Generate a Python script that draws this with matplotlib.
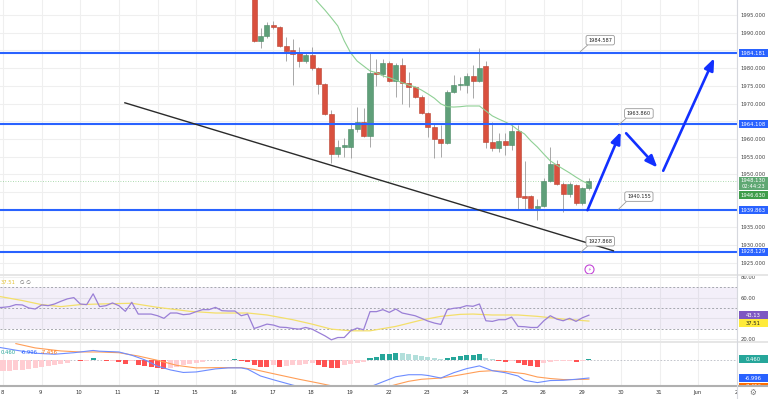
import matplotlib
matplotlib.use("Agg")
import matplotlib.pyplot as plt
from matplotlib.patches import Rectangle
from matplotlib.lines import Line2D
import numpy as np

plt.rcParams['font.family'] = ['DejaVu Sans']

# ---------------- data ----------------
day_labels = ["8", "9", "10", "11", "12", "15", "16", "17", "18", "19",
              "22", "23", "24", "25", "26", "29", "30", "31", "Jun", "2"]

# 4h candles (6 per trading day), first visible candle = index 0
opens = [2002.0, 1987.7, 1989.0, 1992.2, 1991.7, 1986.3, 1985.1, 1984.2, 1982.1, 1983.7,
         1979.9, 1975.5, 1967.0, 1955.7, 1957.8, 1957.8, 1962.7, 1964.8, 1960.9, 1979.0,
         1978.3, 1981.5, 1976.4, 1980.9, 1975.7, 1974.7, 1971.9, 1967.4, 1963.4, 1960.0,
         1958.9, 1973.3, 1975.2, 1975.2, 1977.8, 1976.4, 1980.6, 1959.2, 1957.3, 1959.5,
         1958.2, 1962.3, 1943.8, 1943.9, 1940.6, 1941.0, 1948.2, 1952.9, 1947.4, 1944.4,
         1947.0, 1942.0, 1946.0]
highs = [2002.5, 1991.2, 1993.1, 1993.3, 1992.0, 1988.9, 1988.1, 1986.0, 1984.3, 1986.0,
         1980.4, 1975.7, 1968.2, 1959.7, 1960.2, 1964.5, 1969.0, 1968.7, 1984.2, 1982.6,
         1982.6, 1981.9, 1981.4, 1982.8, 1979.0, 1974.9, 1972.4, 1967.7, 1964.4, 1963.9,
         1973.8, 1978.0, 1977.4, 1978.7, 1980.9, 1985.6, 1982.1, 1964.8, 1961.6, 1961.6,
         1963.9, 1963.9, 1953.9, 1944.1, 1943.0, 1948.9, 1957.6, 1954.0, 1947.9, 1947.9,
         1947.3, 1946.5, 1948.9]
lows = [1987.5, 1985.8, 1988.6, 1991.0, 1986.0, 1982.1, 1975.2, 1980.4, 1981.5, 1979.5,
        1972.7, 1966.7, 1953.1, 1955.0, 1955.0, 1954.6, 1962.0, 1960.6, 1957.8, 1975.0,
        1977.6, 1976.2, 1971.9, 1970.0, 1969.1, 1971.5, 1967.0, 1960.6, 1954.5, 1954.8,
        1958.7, 1972.9, 1973.8, 1972.9, 1971.5, 1976.2, 1957.3, 1956.7, 1956.4, 1955.4,
        1956.9, 1939.9, 1940.2, 1940.1, 1937.1, 1940.7, 1947.9, 1946.9, 1939.4, 1943.7,
        1941.3, 1941.3, 1945.6]
closes = [1987.7, 1989.1, 1992.2, 1991.5, 1986.3, 1984.9, 1984.0, 1982.0, 1983.7, 1979.9,
          1975.5, 1967.0, 1955.7, 1957.8, 1958.1, 1962.7, 1964.8, 1960.9, 1978.5, 1978.3,
          1981.5, 1976.4, 1980.9, 1975.7, 1974.7, 1971.9, 1967.4, 1963.4, 1960.0, 1958.9,
          1973.3, 1975.2, 1975.4, 1977.8, 1976.4, 1980.1, 1959.2, 1957.3, 1959.5, 1958.2,
          1962.3, 1943.5, 1943.4, 1940.6, 1941.0, 1948.2, 1952.9, 1947.4, 1944.4, 1947.2,
          1942.0, 1946.0, 1948.1]

# moving average on price (candle index, value)
ma_first = 9
ma_vals = [2000.5, 1998.4, 1996.4, 1994.2, 1991.9, 1987.7, 1984.3, 1982.0, 1980.6, 1979.2,
           1978.7, 1977.8, 1977.3, 1976.6, 1975.9, 1975.2, 1974.7, 1973.8, 1972.7, 1971.5,
           1969.9, 1969.1, 1969.0, 1969.1, 1969.3, 1969.3, 1969.3, 1967.9, 1966.5, 1965.6,
           1964.8, 1963.9, 1962.5, 1961.4, 1959.4, 1957.7, 1955.7, 1953.8, 1952.6, 1951.5,
           1950.4, 1949.2, 1948.1, 1947.2]

levels = [1984.181, 1964.108, 1939.863, 1928.129]
last_price = 1948.130
second_price = 1946.630
countdown = "02:44:23"

# price scale tick labels that are not hidden behind the label boxes
price_ticks = [1925, 1930, 1935, 1950, 1955, 1960, 1970, 1975, 1980, 1990, 1995]
rsi_ticks = [20, 60, 80]

# trend line (day position, price)
trend_x = [3.155, 15.80]
trend_y = [1970.2, 1928.4]

# projected path arrows: (x0, y0, x1, y1)
arrows = [(15.13, 1939.87, 15.99, 1962.0),
          (16.13, 1961.6, 16.94, 1951.9),
          (17.09, 1951.0, 18.41, 1982.8)]

# price callouts: text, box position, target point
callouts = [("1984.587", (15.46, 1987.9), (14.94, 1984.6)),
            ("1963.860", (16.46, 1967.2), (15.93, 1963.9)),
            ("1940.155", (16.46, 1943.7), (15.93, 1940.1)),
            ("1927.868", (15.46, 1931.1), (14.94, 1927.8))]

# RSI, histogram: one value per candle, candle index -40 .. 52
ind_first = -40
rsi_vals = [50.3, 50.6, 51.3, 53.2, 52.9, 50.0, 49.0, 52.9, 52.2, 53.8,
            56.4, 58.7, 59.9, 53.8, 53.2, 63.5, 51.3, 52.2, 54.8, 52.2,
            46.8, 55.4, 44.2, 44.2, 44.2, 42.6, 40.1, 45.2, 45.2, 43.6,
            44.2, 46.5, 48.4, 48.4, 50.6, 47.4, 47.1, 47.1, 42.6, 44.2,
            30.4, 32.4, 34.6, 33.7, 31.7, 31.4, 30.4, 29.8, 31.4, 29.8,
            26.6, 23.4, 19.6, 21.8, 21.8, 28.2, 30.8, 29.2, 46.5, 46.5,
            48.4, 45.8, 49.0, 45.2, 43.9, 42.6, 40.1, 37.5, 35.6, 34.3,
            48.4, 49.7, 50.3, 52.2, 51.6, 53.8, 37.8, 37.2, 38.8, 38.8,
            41.3, 32.4, 32.1, 31.4, 31.4, 37.8, 42.6, 39.4, 37.8, 40.1,
            37.2, 40.7, 43.13]
hist_vals = [-4.3, -4.3, -4.2, -4.0, -3.7, -3.3, -3.0, -2.6, -2.2, -1.8,
             -1.3, -0.9, 0.3, -0.3, -0.2, 0.9, 0.3, -0.3, -0.3, -0.6,
             -1.3, -0.3, -2.0, -2.2, -2.6, -3.0, -3.4, -3.0, -2.6, -2.0,
             -1.5, -1.0, -0.6, 0.2, 0.3, 0.3, 0.3, 0.35, -0.3, -0.5,
             -1.8, -2.6, -2.7, -1.8, -2.6, -2.2, -2.0, -1.8, -1.6, -1.2,
             -2.0, -2.6, -3.0, -3.2, -2.0, -1.6, -1.2, -0.6, 0.9, 1.3,
             2.4, 2.6, 2.9, 2.85, 2.6, 2.2, 1.6, 1.2, 0.8, 0.4,
             0.8, 1.2, 1.6, 2.0, 2.2, 2.4, 1.0, 0.4, -0.3, -0.6,
             -0.3, -1.2, -1.8, -2.4, -2.6, -1.2, -0.6, -0.4, -0.35, -0.3,
             -0.5, -0.3, 0.46]

rsima_k = [-40, -36, -33, -30, -27, -24, -19, -15, -10, -6, -1, 2, 6, 9, 12, 15, 18, 22,
           26, 29, 32, 34, 37, 41, 44, 48, 52]
rsima_v = [61.5, 57.1, 53.2, 51.3, 53.2, 53.8, 54.5, 50.6, 46.8, 45.2, 45.2, 43.3, 38.8,
           34.6, 29.8, 28.2, 28.2, 32.4, 38.5, 42.0, 43.9, 44.2, 43.3, 43.3, 42.0, 39.4, 37.51]

macd_k = [-40, -37, -34, -31, -28, -25, -24, -21, -19, -17, -15, -13, -11, -9, -6, -4, -2, -1,
          1, 3, 6, 8, 11, 14, 16, 18, 19, 22, 24, 26, 27, 29, 31, 33, 35, 37, 39, 41, 42,
          44, 46, 48, 50, 52]
macd_v = [5.3, 4.0, 2.8, 2.4, 3.0, 3.9, 3.6, 3.3, 2.0, 0.2, -2.3, -3.8, -4.8, -4.6, -3.4,
          -3.0, -3.0, -3.5, -6.2, -7.7, -9.8, -11.0, -12.5, -13.0, -12.0, -10.5, -9.5, -6.5,
          -5.7, -5.7, -6.0, -7.0, -4.9, -3.3, -2.2, -4.1, -4.9, -6.2, -7.9, -8.8, -8.0, -7.9,
          -7.5, -6.996]
sig_k = [-37, -34, -30, -27, -24, -21, -18, -15, -12, -9, -6, -2, 0, 3, 7, 10, 13, 16, 19,
         21, 22, 24, 26, 29, 31, 33, 35, 37, 39, 42, 44, 46, 48, 50, 52]
sig_v = [6.6, 4.9, 3.7, 3.3, 3.3, 3.0, 1.7, 0.0, -2.0, -3.0, -2.9, -2.9, -3.6, -5.3, -7.5,
         -9.0, -10.6, -11.8, -11.5, -10.3, -9.6, -8.3, -7.5, -7.0, -6.2, -5.3, -4.4, -4.1,
         -4.4, -5.3, -6.6, -7.2, -7.6, -7.6, -7.456]

# ---------------- layout helpers ----------------
W, H = 768, 399
AXW = 737.0          # plot width in px (price scale to the right)
DAY_PX = 38.67
X0_PX = 3.0
C0 = 6.5             # day position of candle index 0
CPD = 6.0            # candles per day


def kpos(k):
    return C0 + np.asarray(k, dtype=float) / CPD


def fy(py):
    return 1 - py / H


fig = plt.figure(figsize=(W / 100, H / 100), dpi=100)
fig.patch.set_facecolor('white')

xlim = (-X0_PX / DAY_PX, (AXW - X0_PX) / DAY_PX)

axp = fig.add_axes([0, fy(274.5), AXW / W, 274.5 / H])
axr = fig.add_axes([0, fy(341.5), AXW / W, (341.5 - 275.5) / H])
axm = fig.add_axes([0, fy(385), AXW / W, (385 - 342.5) / H])
axd = fig.add_axes([0, 0, 1, 13.5 / H], zorder=10)

axp.set_ylim(1921.7, 1999.24)
axr.set_ylim(18.0, 81.0)
axm.set_ylim(-9.76, 7.04)

grid_c = '#efefef'
for ax in (axp, axr, axm):
    ax.set_xlim(*xlim)
    for s in ax.spines.values():
        s.set_visible(False)
    ax.set_xticks(np.arange(len(day_labels)))
    ax.tick_params(axis='x', length=0, labelbottom=False)
    ax.grid(True, axis='x', color=grid_c, lw=0.8, zorder=0)
    ax.yaxis.tick_right()
    ax.tick_params(axis='y', length=0, labelsize=3.8, labelcolor='#444', pad=2.3)
    ax.set_axisbelow(True)

# ---------------- price pane ----------------
for v in np.arange(1925, 1996, 5):
    axp.axhline(v, color=grid_c, lw=0.8, zorder=0)
axp.set_yticks(price_ticks)
axp.set_yticklabels([f"{v:.3f}" for v in price_ticks])

k = np.arange(len(opens))
xs = kpos(k)
o = np.array(opens); c = np.array(closes); hi = np.array(highs); lo = np.array(lows)
up = c >= o
col_up, col_dn = '#5f9f79', '#d9503e'
edge_up, edge_dn = '#4c8a66', '#b9412f'
axp.vlines(xs, lo, hi, color='#9a9a9a', lw=0.6, zorder=3)
bottoms = np.minimum(o, c)
heights = np.maximum(np.abs(c - o), 0.35)
axp.bar(xs[up], heights[up], bottom=bottoms[up], width=0.13,
        color=col_up, edgecolor=edge_up, lw=0.4, zorder=4)
axp.bar(xs[~up], heights[~up], bottom=bottoms[~up], width=0.13,
        color=col_dn, edgecolor=edge_dn, lw=0.4, zorder=4)

axp.plot(kpos(np.arange(len(ma_vals)) + ma_first), ma_vals, color='#8fd095', lw=0.8, zorder=5)

for lv in levels:
    axp.axhline(lv, color='#2962ff', lw=1.5, zorder=5)
axp.axhline(last_price, color='#66bb6a', lw=0.6, ls=(0, (1, 2)), alpha=0.7, zorder=2)

axp.plot(trend_x, trend_y, color='#2b2b2b', lw=1.0, zorder=6)

for (x0, y0, x1, y1) in arrows:
    axp.annotate('', xy=(x1, y1), xytext=(x0, y0),
                 arrowprops=dict(arrowstyle='-|>,head_length=0.7,head_width=0.28',
                                 color='#1230ff', lw=1.9, shrinkA=0, shrinkB=0,
                                 mutation_scale=10), zorder=7)

for txt, (tx, ty), (px, py) in callouts:
    axp.annotate(txt, xy=(px, py), xytext=(tx, ty), textcoords='data',
                 ha='center', va='center', fontsize=3.6, color='#222', zorder=8,
                 bbox=dict(boxstyle='round,pad=0.45,rounding_size=0.35', fc='white',
                           ec='#9a9a9a', lw=0.6),
                 arrowprops=dict(arrowstyle='-', color='#9a9a9a', lw=0.6,
                                 relpos=(0.08, 0.0), shrinkA=0, shrinkB=0))

# event marker
ev_x = kpos(52)
axp.plot([ev_x], [1923.3], 'o', ms=6.5, mfc='white', mec='#c246d6', mew=0.8, zorder=8)
axp.text(ev_x, 1923.3, '\u26a1', fontsize=3.6, color='#c246d6', ha='center', va='center', zorder=9)


def right_label(ax, y, text, fc, tc='white', px_h=8.0, lines=1):
    y0 = ax.transData.transform((0, 0))[1]
    y1 = ax.transData.transform((0, 1))[1]
    ppu = abs(y1 - y0)
    h = px_h * lines / ppu
    ax.add_patch(Rectangle((738.5 / AXW, y - h / 2), 29 / AXW, h,
                           transform=ax.get_yaxis_transform(), facecolor=fc,
                           edgecolor='none', clip_on=False, zorder=20))
    ax.text(753 / AXW, y, text, transform=ax.get_yaxis_transform(), ha='center',
            va='center', fontsize=3.8, color=tc, zorder=21, clip_on=False, linespacing=1.15)


for lv in levels:
    right_label(axp, lv, f"{lv:.3f}", '#2962ff')
right_label(axp, 1947.4, f"{last_price:.3f}\n{countdown}", '#5fa873', lines=1.65)
right_label(axp, 1944.1, f"{second_price:.3f}", '#3f9d4a')

# ---------------- RSI pane ----------------
rk = np.arange(len(rsi_vals)) + ind_first
for v in (20, 40, 60, 80):
    axr.axhline(v, color=grid_c, lw=0.8, zorder=0)
axr.set_yticks(rsi_ticks)
axr.set_yticklabels([f"{v:.2f}" for v in rsi_ticks])
axr.axhspan(30, 70, color='#7e57c2', alpha=0.09, lw=0, zorder=1)
for lv in (70, 50, 30):
    axr.axhline(lv, color='#a5a7ae', lw=0.7, ls=(0, (2, 2)), zorder=2)
axr.plot(kpos(rsima_k), rsima_v, color='#f3df6a', lw=0.9, zorder=3)
axr.plot(kpos(rk), rsi_vals, color='#9a7fd6', lw=0.9, zorder=4)
right_label(axr, 43.13, "43.13", '#7e57c2')
right_label(axr, 35.6, "37.51", '#ffeb3b', tc='#222')

# ---------------- MACD pane ----------------
hk = np.arange(len(hist_vals)) + ind_first
axm.set_yticks([])
axm.axhline(0, color='#b9bcc4', lw=0.6, ls=(0, (2, 2)), zorder=1)
hcols = []
prev = 0.0
for v in hist_vals:
    if v >= 0:
        hcols.append('#26a69a' if v >= prev else '#b2dfdb')
    else:
        hcols.append('#ff5252' if v < prev else '#ffcdd2')
    prev = v
axm.bar(kpos(hk), hist_vals, width=0.13, color=hcols, lw=0, zorder=2)
axm.plot(kpos(sig_k), sig_v, color='#ff9e57', lw=0.8, zorder=3)
axm.plot(kpos(macd_k), macd_v, color='#6d8cff', lw=0.8, zorder=4)
right_label(axm, 0.46, "0.460", '#26a69a')
right_label(axm, -7.1, "-6.996", '#2962ff')
right_label(axm, -10.36, "-7.456", '#ff6d00')

# indicator header texts
fig.text(0.5 / W, fy(282.7), "37.51", fontsize=3.8, color='#e3c335', va='center', ha='left')
fig.text(19.5 / W, fy(282.7), "\u2205 \u2205", fontsize=3.8, color='#555', va='center', ha='left')
fig.text(1 / W, fy(352), "0.460", fontsize=3.8, color='#26a69a', va='center', ha='left')
fig.text(20.7 / W, fy(352), "-6.996", fontsize=3.8, color='#2962ff', va='center', ha='left')
fig.text(40.7 / W, fy(352), "-7.456", fontsize=3.8, color='#ff6d00', va='center', ha='left')

# ---------------- date axis ----------------
axd.set_xlim(-X0_PX / DAY_PX, (W - X0_PX) / DAY_PX)
axd.set_ylim(0, 1)
axd.set_facecolor('white')
for s in axd.spines.values():
    s.set_visible(False)
axd.set_xticks([])
axd.set_yticks([])
for i, lab in enumerate(day_labels):
    axd.text(i - 0.03, 0.48, lab, fontsize=3.8, color='#333', ha='center', va='center', zorder=3)
axd.add_patch(Rectangle(((AXW + 1.5 - X0_PX) / DAY_PX, 0), 40, 1, facecolor='white',
                        edgecolor='none', zorder=5))
axd.text((753 - X0_PX) / DAY_PX, 0.48, '\u2699', fontsize=5.5, color='#777',
         ha='center', va='center', zorder=6)

# separators
fig.add_artist(Line2D([0, 1], [fy(275), fy(275)], color='#e6e6e6', lw=1.4, zorder=30))
fig.add_artist(Line2D([0, 1], [fy(342), fy(342)], color='#e6e6e6', lw=1.4, zorder=30))
fig.add_artist(Line2D([0, 1], [fy(385.5), fy(385.5)], color='#b0b0b0', lw=1.5, zorder=30))
fig.add_artist(Line2D([AXW / W, AXW / W], [0, 1], color='#d6d8de', lw=0.8, zorder=30))

fig.savefig('out.png', dpi=100, facecolor='white')
